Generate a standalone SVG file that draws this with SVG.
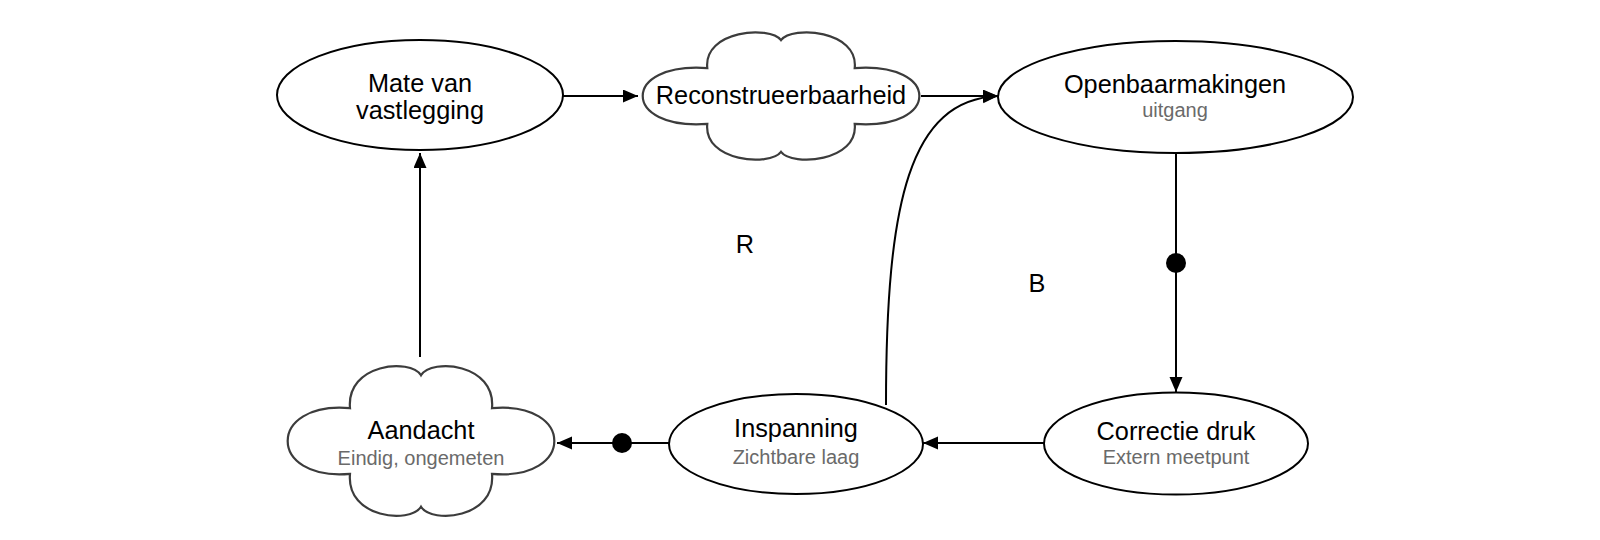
<svg xmlns="http://www.w3.org/2000/svg" width="1600" height="540" viewBox="0 0 1600 540">
<style>
.ell{fill:#fff;stroke:#000;stroke-width:2}
.cloud{fill:#fff;stroke:#3c3c3c;stroke-width:2.2}
.t{font-family:"Liberation Sans",Arial,sans-serif;font-size:25.3px;fill:#000;text-anchor:middle}
.s{font-family:"Liberation Sans",Arial,sans-serif;font-size:20px;fill:#6a6a6a;text-anchor:middle}
.e{fill:none;stroke:#000;stroke-width:2}
.dot{fill:#000}
</style>
<defs>
<marker id="arr" markerWidth="16" markerHeight="14" refX="15" refY="6.5" orient="auto" markerUnits="userSpaceOnUse">
<path d="M0,0 L15,6.5 L0,13 Z" fill="#000"/>
</marker>
</defs>
<rect width="1600" height="540" fill="#fff"/>
<g id="connectors">
<line class="e" x1="563" y1="96" x2="638" y2="96" marker-end="url(#arr)"/>
<line class="e" x1="921" y1="96" x2="998" y2="96" marker-end="url(#arr)"/>
<line class="e" x1="1176" y1="153" x2="1176" y2="392" marker-end="url(#arr)"/>
<circle class="dot" cx="1176" cy="263" r="10"/>
<line class="e" x1="1044" y1="443" x2="923" y2="443" marker-end="url(#arr)"/>
<line class="e" x1="669" y1="443" x2="557" y2="443" marker-end="url(#arr)"/>
<circle class="dot" cx="622" cy="443" r="10"/>
<line class="e" x1="420" y1="357" x2="420" y2="153" marker-end="url(#arr)"/>
<path class="e" d="M886,405 C886,200 910,100 998,96" marker-end="url(#arr)"/>
</g>
<g id="mate">
<ellipse class="ell" cx="420" cy="95" rx="143" ry="55"/>
<text class="t" x="420" y="92">Mate van</text>
<text class="t" x="420" y="119">vastlegging</text>
</g>
<g id="reconstrueerbaarheid">
<path class="cloud" d="M707.3,68.1 C703.2,30.3 769.9,25.3 781,40.2 C792.1,25.3 858.8,30.3 854.7,68.1 C940.9,61.9 940.9,130.1 854.7,123.9 C858.8,161.7 792.1,166.7 781,151.8 C769.9,166.7 703.2,161.7 707.3,123.9 C621.2,130.1 621.2,61.9 707.3,68.1 Z"/>
<text class="t" x="781" y="104">Reconstrueerbaarheid</text>
</g>
<g id="openbaarmakingen">
<ellipse class="ell" cx="1175.5" cy="97" rx="177.5" ry="56"/>
<text class="t" x="1175" y="93">Openbaarmakingen</text>
<text class="s" x="1175" y="117">uitgang</text>
</g>
<g id="correctie">
<ellipse class="ell" cx="1176" cy="443.5" rx="132" ry="51"/>
<text class="t" x="1176" y="440">Correctie druk</text>
<text class="s" x="1176" y="464">Extern meetpunt</text>
</g>
<g id="inspanning">
<ellipse class="ell" cx="796" cy="444" rx="127" ry="50"/>
<text class="t" x="796" y="437">Inspanning</text>
<text class="s" x="796" y="464">Zichtbare laag</text>
</g>
<g id="aandacht">
<path class="cloud" d="M350,408.2 C346,363.6 410.3,357.8 421,375.3 C431.7,357.8 496,363.6 492,408.2 C575.1,400.9 575.1,481.2 492,473.9 C496,518.4 431.7,524.2 421,506.7 C410.3,524.2 346,518.4 350,473.9 C266.9,481.2 266.9,400.9 350,408.2 Z"/>
<text class="t" x="421" y="439">Aandacht</text>
<text class="s" x="421" y="465">Eindig, ongemeten</text>
</g>
<g id="labels">
<text class="t" x="745" y="253">R</text>
<text class="t" x="1037" y="292">B</text>
</g>
</svg>
